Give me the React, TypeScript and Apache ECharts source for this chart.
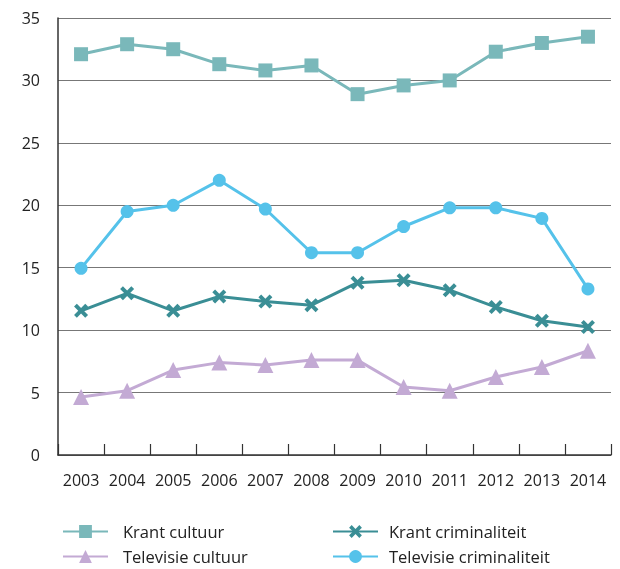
import React, { useEffect, useRef } from "react";
import * as echarts from "echarts";

const years = ["2003", "2004", "2005", "2006", "2007", "2008", "2009", "2010", "2011", "2012", "2013", "2014"];
const krantCultuur = [32.1, 32.9, 32.5, 31.3, 30.8, 31.2, 28.9, 29.6, 30.0, 32.3, 33.0, 33.5];
const krantCriminaliteit = [11.55, 12.95, 11.55, 12.7, 12.3, 12.0, 13.8, 14.0, 13.2, 11.85, 10.75, 10.25];
const televisieCultuur = [4.65, 5.15, 6.8, 7.4, 7.2, 7.6, 7.6, 5.45, 5.15, 6.25, 7.05, 8.35];
const televisieCriminaliteit = [14.95, 19.5, 20.0, 22.0, 19.7, 16.2, 16.2, 18.3, 19.8, 19.8, 18.95, 13.3];
const yTicks = { min: 0, max: 35, interval: 5 };

const FONT = "'Open Sans', 'Noto Sans', sans-serif";
const CROSS = "path://M0,2 L2,0 L5,3 L8,0 L10,2 L7,5 L10,8 L8,10 L5,7 L2,10 L0,8 L3,5 Z";

export default function App() {
  const ref = useRef<HTMLDivElement>(null);
  useEffect(() => {
    if (!ref.current) return;
    const chart = echarts.init(ref.current, null, { renderer: "svg" });
    const mk = (name: string, data: number[], color: string, symbol: string, size: number) => ({
      name,
      type: "line",
      data,
      symbol,
      symbolSize: size,
      color,
      lineStyle: { color, width: 3 },
      itemStyle: { color },
    });
    const legendBase = {
      orient: "vertical",
      top: 518,
      height: 60,
      itemWidth: 45,
      itemHeight: 16,
      itemGap: 8,
    };
    chart.setOption({
      animation: false,
      textStyle: { fontFamily: FONT },
      grid: { left: 58, right: 9, top: 18, bottom: 114, containLabel: false },
      legend: [
        {
          ...legendBase,
          data: ["Krant cultuur", "Televisie cultuur"],
          left: 57,
          textStyle: { fontSize: 16.5, color: "#222", fontFamily: FONT, padding: [0, 0, 0, 10] },
        },
        {
          ...legendBase,
          data: ["Krant criminaliteit", "Televisie criminaliteit"],
          left: 327,
          textStyle: { fontSize: 16.5, color: "#222", fontFamily: FONT, padding: [0, 0, 0, 6] },
        },
      ],
      xAxis: {
        type: "category",
        data: years,
        boundaryGap: true,
        axisLine: { lineStyle: { color: "#333", width: 1.5 } },
        axisTick: { show: true, inside: true, length: 11, interval: 0, lineStyle: { color: "#333", width: 1.2 } },
        axisLabel: { fontSize: 16, color: "#222", margin: 17, fontFamily: FONT, interval: 0, hideOverlap: false },
        splitLine: { show: false },
      },
      yAxis: {
        type: "value",
        min: yTicks.min,
        max: yTicks.max,
        interval: yTicks.interval,
        axisLine: { show: true, lineStyle: { color: "#333", width: 1.5 } },
        axisTick: { show: false },
        axisLabel: { fontSize: 16, color: "#222", margin: 18, fontFamily: FONT },
        splitLine: { show: true, lineStyle: { color: "#777", width: 1.2 } },
      },
      series: [
        mk("Krant cultuur", krantCultuur, "#7ab8ba", "rect", 14),
        mk("Krant criminaliteit", krantCriminaliteit, "#3a8e95", CROSS, 14),
        mk("Televisie cultuur", televisieCultuur, "#c3aad4", "triangle", 16),
        mk("Televisie criminaliteit", televisieCriminaliteit, "#55c2ea", "circle", 13),
      ],
    });
    return () => chart.dispose();
  }, []);
  return <div ref={ref} style={{ position: "fixed", left: 0, top: 0, width: 620, height: 569 }} />;
}
